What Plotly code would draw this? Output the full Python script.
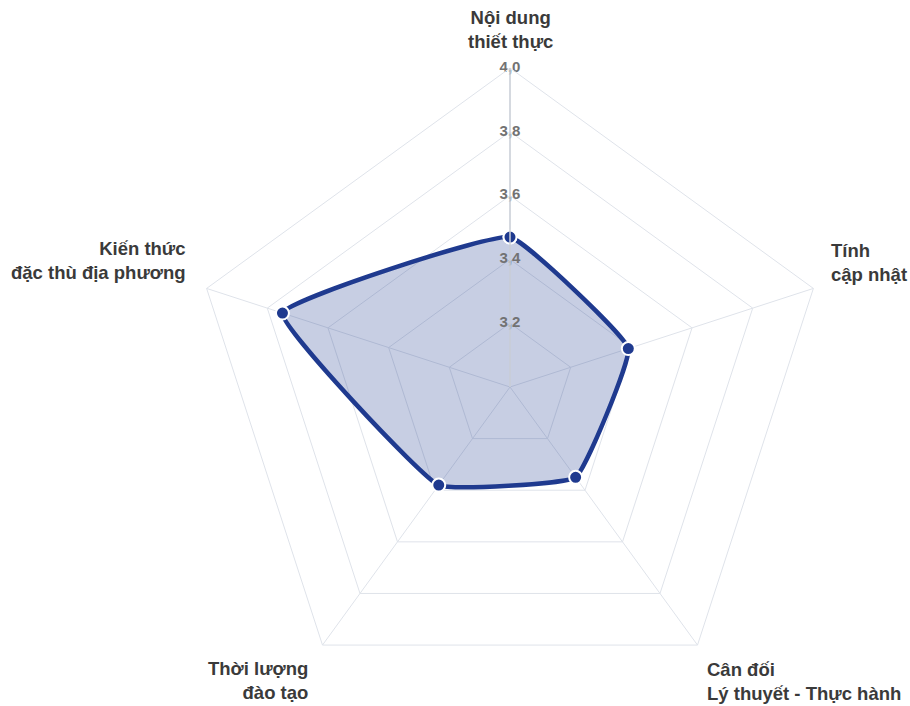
import plotly.graph_objects as go

W, H = 910, 706

# Survey criteria (clockwise from the top) and their mean scores
categories = [
    "Nội dung thiết thực",
    "Tính cập nhật",
    "Cân đối Lý thuyết - Thực hành",
    "Thời lượng đào tạo",
    "Kiến thức đặc thù địa phương",
]
category_labels = [
    "Nội dung<br>thiết thực",
    "Tính<br>cập nhật",
    "Cân đối<br>Lý thuyết - Thực hành",
    "Thời lượng<br>đào tạo",
    "Kiến thức<br>đặc thù địa phương",
]
scores = [3.47, 3.39, 3.35, 3.38, 3.75]

tick_values = [3.2, 3.4, 3.6, 3.8, 4.0]
tick_labels = ["3,2", "3,4", "3,6", "3,8", "4,0"]

LINE = "#1f3a8f"
FILL = "rgba(31,58,143,0.25)"
GRID = "#dfe3ea"

fig = go.Figure()

# closed polygon of scores
fig.add_trace(go.Scatterpolar(
    r=scores + scores[:1],
    theta=categories + categories[:1],
    mode="lines+markers",
    fill="toself",
    fillcolor=FILL,
    line=dict(color=LINE, width=4.5, shape="spline", smoothing=0.3),
    marker=dict(size=13, color=LINE, line=dict(color="white", width=2)),
    hoverinfo="skip",
))

# radial tick labels centred on the vertical axis
fig.add_trace(go.Scatterpolar(
    r=tick_values,
    theta=[categories[0]] * len(tick_values),
    mode="text",
    text=tick_labels,
    textposition="middle center",
    textfont=dict(family="Liberation Sans, Arial, sans-serif", size=15,
                  color="#727272", weight="bold"),
    cliponaxis=False,
    hoverinfo="skip",
))


def px(x, y):
    return x / W, 1 - y / H


# category label placement: (x, y, xanchor, align)
label_pos = [
    (510, 29, "center", "center"),
    (829, 262, "left", "left"),
    (705, 681, "left", "left"),
    (310, 680, "right", "right"),
    (188, 261, "right", "right"),
]
annotations = []
for text, (x, y, xa, al) in zip(category_labels, label_pos):
    ax, ay = px(x, y)
    annotations.append(dict(
        x=ax, y=ay, xref="paper", yref="paper", text=text,
        showarrow=False, xanchor=xa, yanchor="middle", align=al,
        font=dict(family="Liberation Sans, Arial, sans-serif", size=18.5,
                  color="#3a3a3a", weight="bold"),
    ))

fig.update_layout(
    width=W, height=H,
    margin=dict(l=0, r=0, t=0, b=0),
    paper_bgcolor="white",
    plot_bgcolor="white",
    showlegend=False,
    separators=",.",
    annotations=annotations,
    polar=dict(
        domain=dict(x=[190 / W, 830 / W], y=[0, 1 - 68 / H]),
        bgcolor="white",
        gridshape="linear",
        radialaxis=dict(
            range=[3.0, 4.0],
            tickvals=tick_values,
            showticklabels=False,
            ticks="",
            angle=90,
            showline=True,
            linecolor="#cdd1d8",
            linewidth=1.5,
            gridcolor=GRID,
            gridwidth=1,
        ),
        angularaxis=dict(
            direction="clockwise",
            rotation=90,
            showticklabels=False,
            ticks="",
            showline=True,
            linecolor=GRID,
            linewidth=1,
            gridcolor=GRID,
            gridwidth=1,
        ),
    ),
)

fig.write_html("out.html")
